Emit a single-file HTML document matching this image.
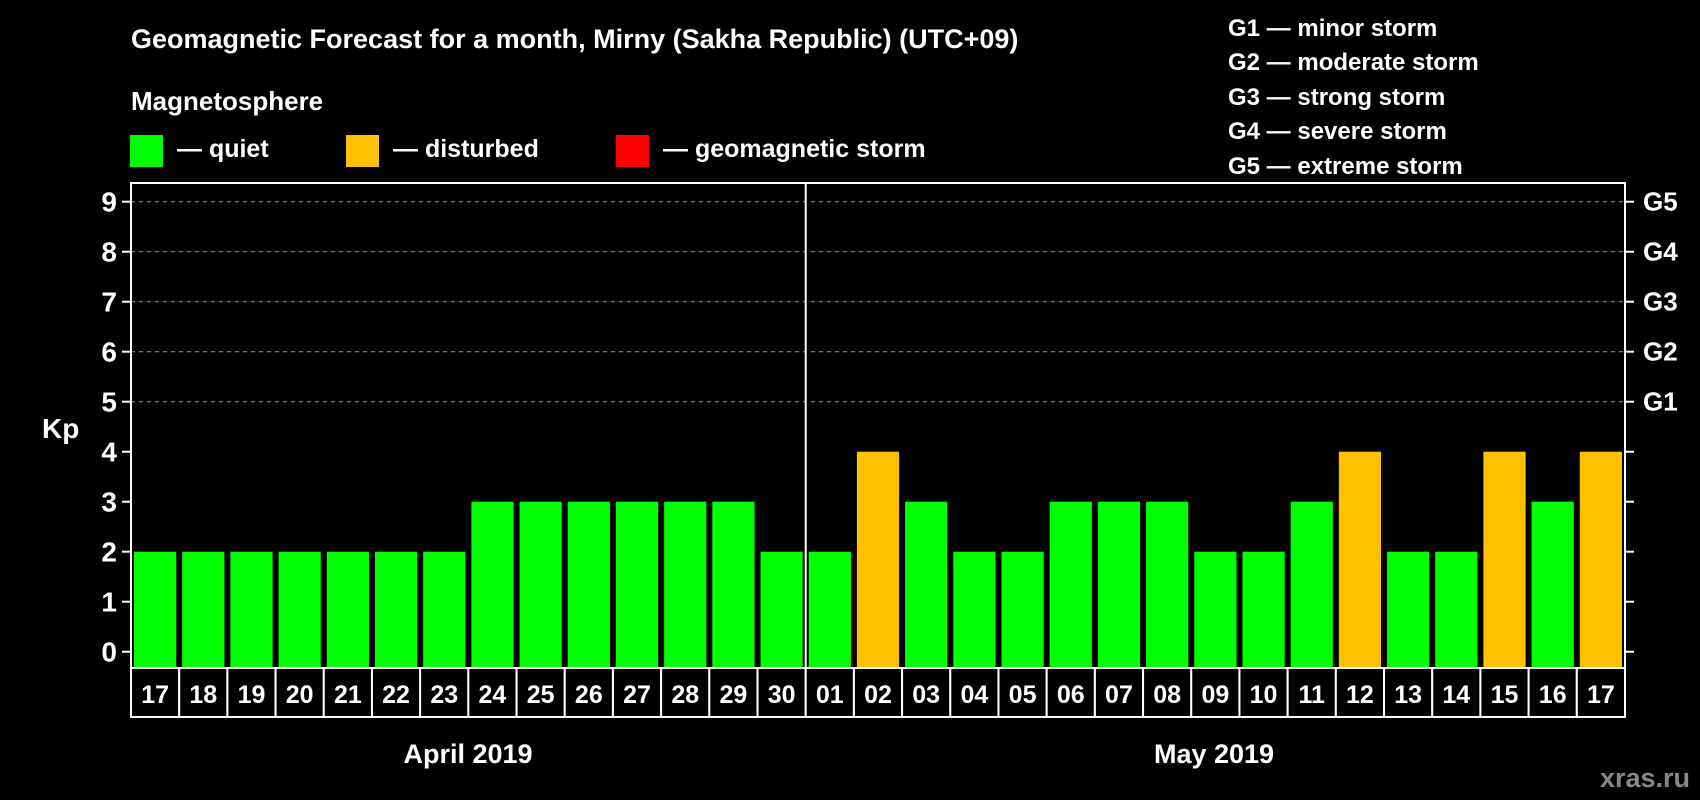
<!DOCTYPE html>
<html><head><meta charset="utf-8"><style>
html,body{margin:0;padding:0;background:#000;}
svg{display:block;font-family:"Liberation Sans",Arial,sans-serif;font-weight:bold;}
</style></head><body>
<svg id="chart" width="1700" height="800" viewBox="0 0 1700 800">
<rect width="1700" height="800" fill="#000"/>
<text x="131" y="48" fill="#fff" font-size="27">Geomagnetic Forecast for a month, Mirny (Sakha Republic) (UTC+09)</text>
<text x="131" y="110" fill="#fff" font-size="26">Magnetosphere</text>
<g><rect x="130" y="135" width="33" height="32" fill="#00ff00"/><text x="177" y="157" fill="#fff" font-size="25">— quiet</text></g>
<g><rect x="346" y="135" width="33" height="32" fill="#ffc000"/><text x="393" y="157" fill="#fff" font-size="25">— disturbed</text></g>
<g><rect x="616" y="135" width="33" height="32" fill="#ff0000"/><text x="663" y="157" fill="#fff" font-size="25">— geomagnetic storm</text></g>
<g fill="#fff" font-size="24">
<text x="1228" y="36">G1 — minor storm</text>
<text x="1228" y="70">G2 — moderate storm</text>
<text x="1228" y="105">G3 — strong storm</text>
<text x="1228" y="139">G4 — severe storm</text>
<text x="1228" y="174">G5 — extreme storm</text>
</g>
<text x="42" y="438" fill="#fff" font-size="28">Kp</text>
<g id="plot"></g>
<text x="468" y="763" fill="#fff" font-size="27" text-anchor="middle">April 2019</text>
<text x="1214" y="763" fill="#fff" font-size="27" text-anchor="middle">May 2019</text>
<text x="1690" y="787" fill="#888" font-size="27" text-anchor="end">xras.ru</text>
</svg>
<script>
const days=["17","18","19","20","21","22","23","24","25","26","27","28","29","30","01","02","03","04","05","06","07","08","09","10","11","12","13","14","15","16","17"];
const kpValues=[2,2,2,2,2,2,2,3,3,3,3,3,3,2,2,4,3,2,2,3,3,3,2,2,3,4,2,2,4,3,4];
const yTicks=[0,1,2,3,4,5,6,7,8,9];
const gLabels=["","","","","","G1","G2","G3","G4","G5"];
const NS="http://www.w3.org/2000/svg";
const L=131,R=1625,T=183,B=668;
const y=v=>651.7-v*50;
const bw=(R-L)/days.length;
const x=i=>L+i*bw;
const g=document.getElementById('plot');
function mk(t,a){const e=document.createElementNS(NS,t);for(const k in a)e.setAttribute(k,a[k]);g.appendChild(e);return e;}
yTicks.forEach((v,i)=>{
 if(v>=5){const l=mk('line',{x1:L,x2:R,y1:y(v),y2:y(v),stroke:'#999','stroke-width':1,'stroke-dasharray':'4,4'});
 
 }
 const t1=mk('line',{x1:L-9,x2:L,y1:y(v),y2:y(v),stroke:'#fff','stroke-width':2});
 
 
 const t2=mk('line',{x1:R,x2:R+9,y1:y(v),y2:y(v),stroke:'#fff','stroke-width':2});
 
 
 const lb=mk('text',{x:L-14,y:y(v)+10,fill:'#fff','font-size':28,'text-anchor':'end'});lb.textContent=v;
 
 
 if(gLabels[i]){const gl=mk('text',{x:1643,y:y(v)+9,fill:'#fff','font-size':26});gl.textContent=gLabels[i];
 
 }
});
kpValues.forEach((v,i)=>{
 const r=mk('rect',{x:x(i)+3,y:y(v),width:bw-6,height:B-y(v),fill:v>=5?'#ff0000':(v>=4?'#ffc000':'#00ff00')});
 
 
 const c=mk('rect',{x:x(i),y:B,width:bw,height:49,fill:'#000',stroke:'#fff','stroke-width':2});
 
 
 const t=mk('text',{x:x(i)+bw/2,y:B+35,fill:'#fff','font-size':25,'text-anchor':'middle'});t.textContent=days[i];
 
 
});
const fr=mk('rect',{x:L,y:T,width:R-L,height:B-T,fill:'none',stroke:'#fff','stroke-width':2});


const sep=mk('line',{x1:x(14),x2:x(14),y1:T,y2:B,stroke:'#fff','stroke-width':2});


</script>
</body></html>
